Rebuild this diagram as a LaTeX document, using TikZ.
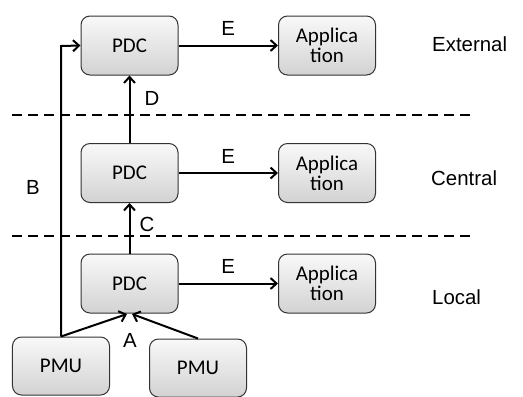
\documentclass[tikz,border=0pt]{standalone}
\usepackage{fontspec}
\setmainfont{Liberation Sans}
\newfontfamily\boxfont{Carlito}
\usetikzlibrary{arrows.meta}
\begin{document}
\begin{tikzpicture}[x=1bp,y=-1bp,
  blk/.style={draw=black!80,line width=1bp,rounded corners=9bp,top color=gray!5,bottom color=gray!35,
    minimum width=97bp,minimum height=59bp,inner sep=0pt,font=\boxfont\fontsize{21}{20}\selectfont,align=center},
  lbl/.style={font=\fontsize{20.5}{21}\selectfont,inner sep=0pt},
  conn/.style={line width=2bp,-{Straight Barb[length=6bp,width=11bp,line width=2bp]}},
  sep/.style={line width=2bp,dash pattern=on 10bp off 6bp}]
\useasboundingbox (0,0) rectangle (523,396);
% boxes
\node[blk] (pdc1) at (129.5,45.5) {PDC};
\node[blk] (app1) at (327,45.5) {Applica\\tion};
\node[blk] (pdc2) at (129.5,173) {PDC};
\node[blk] (app2) at (327,173) {Applica\\tion};
\node[blk] (pdc3) at (129.5,283.5) {PDC};
\node[blk] (app3) at (327,283.5) {Applica\\tion};
\node[blk,minimum height=58bp] (pmu1) at (61,366) {PMU};
\node[blk,minimum height=58bp] (pmu2) at (198,368) {PMU};
% level labels
\node[lbl,anchor=west] (ext) at (432,44) {External};
\node[lbl,anchor=west] (cen) at (431,178) {Central};
\node[lbl,anchor=west] (loc) at (432,297) {Local};
% dashed separators
\coordinate (s1a) at (12,115); \coordinate (s1b) at (473,115);
\coordinate (s2a) at (12,236); \coordinate (s2b) at (473,236);
\draw[sep] (s1a) -- (s1b);
\draw[sep] (s2a) -- (s2b);
% E arrows
\draw[conn] (pdc1.east) -- (app1.west) node[lbl,midway,above=9bp] (e1) {E};
\draw[conn] (pdc2.east) -- (app2.west) node[lbl,midway,above=9bp] (e2) {E};
\draw[conn] (pdc3.east) -- (app3.west) node[lbl,midway,above=9bp] (e3) {E};
% vertical links
\draw[conn] (pdc2.north) -- (pdc1.south);
\draw[conn] (pdc3.north) -- (pdc2.south);
\node[lbl] (d) at (152,98) {D};
\node[lbl] (c) at (147,224) {C};
% B path
\coordinate (bt) at (61,46);
\draw[conn] (pmu1.north) -- (bt) -- (pdc1.west);
\node[lbl] (b) at (33,187) {B};
% A arrows
\coordinate (a1) at (127,314);
\coordinate (a2) at (132,314);
\draw[conn] (pmu1.north) -- (a1);
\draw[conn] (pmu2.north) -- (a2);
\node[lbl] (a) at (130,340) {A};
\end{tikzpicture}
\end{document}
